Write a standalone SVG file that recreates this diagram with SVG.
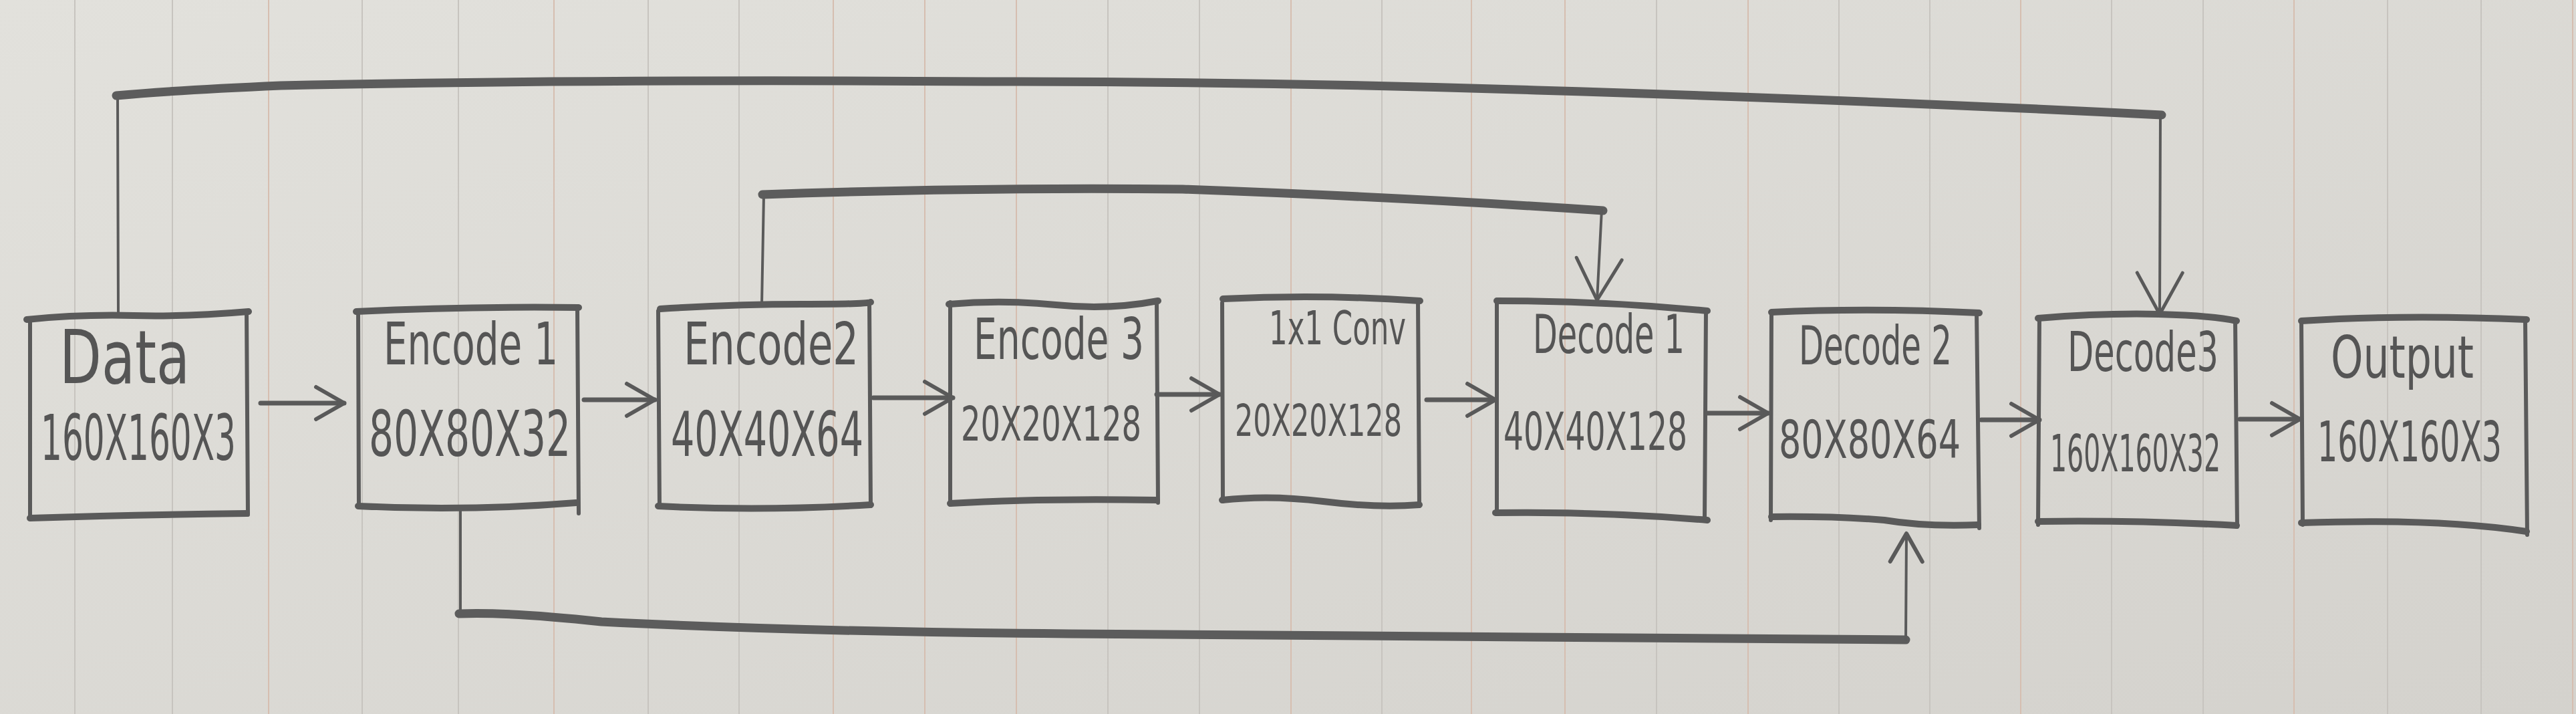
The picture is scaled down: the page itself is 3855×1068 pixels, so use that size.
<svg xmlns="http://www.w3.org/2000/svg" width="3855" height="1068" viewBox="0 0 3855 1068">
<defs>
<linearGradient id="paper" x1="0" y1="0" x2="1" y2="1">
<stop offset="0" stop-color="#e2e1dc"/>
<stop offset="1" stop-color="#d4d2cd"/>
</linearGradient>
<marker id="ah" markerUnits="userSpaceOnUse" viewBox="-60 -40 70 80" markerWidth="70" markerHeight="80" refX="0" refY="0" orient="auto" overflow="visible">
<path d="M-42,-24 L0,0 L-42,24" fill="none" stroke="#595959" stroke-width="6" stroke-linecap="round" stroke-linejoin="round"/>
</marker>
<marker id="ahv" markerUnits="userSpaceOnUse" viewBox="-80 -50 90 100" markerWidth="90" markerHeight="100" refX="0" refY="0" orient="auto" overflow="visible">
<path d="M-62,-34 L0,0 L-62,34" fill="none" stroke="#595959" stroke-width="5" stroke-linecap="round" stroke-linejoin="round"/>
</marker>
</defs>
<style>
.eh{fill:none;stroke:#5a5a5a;stroke-width:10;stroke-linecap:round;stroke-linejoin:round}
.ev{fill:none;stroke:#5a5a5a;stroke-width:6;stroke-linecap:round}
.rule{stroke:#c7c4bf;stroke-width:2}
.rule2{stroke:#d6beb0;stroke-width:2}
.t{font-family:"DejaVu Sans Condensed","DejaVu Sans",sans-serif;fill:#555555}
.ca{fill:none;stroke:#5a5a5a;stroke-width:7;stroke-linecap:round;marker-end:url(#ah)}
.ch{fill:none;stroke:#5c5c5c;stroke-width:13;stroke-linecap:round;stroke-linejoin:round}
.cv{fill:none;stroke:#5a5a5a;stroke-width:4;stroke-linecap:round}
</style>
<rect x="0" y="0" width="3855" height="1068" fill="url(#paper)"/>
<g id="ruling">
<line class="rule" x1="112" y1="0" x2="112" y2="1068"/>
<line class="rule" x1="258" y1="0" x2="258" y2="1068"/>
<line class="rule2" x1="402" y1="0" x2="402" y2="1068"/>
<line class="rule" x1="542" y1="0" x2="542" y2="1068"/>
<line class="rule" x1="686" y1="0" x2="686" y2="1068"/>
<line class="rule2" x1="829" y1="0" x2="829" y2="1068"/>
<line class="rule" x1="970" y1="0" x2="970" y2="1068"/>
<line class="rule" x1="1106" y1="0" x2="1106" y2="1068"/>
<line class="rule2" x1="1247" y1="0" x2="1247" y2="1068"/>
<line class="rule2" x1="1384" y1="0" x2="1384" y2="1068"/>
<line class="rule2" x1="1521" y1="0" x2="1521" y2="1068"/>
<line class="rule" x1="1658" y1="0" x2="1658" y2="1068"/>
<line class="rule" x1="1795" y1="0" x2="1795" y2="1068"/>
<line class="rule2" x1="1932" y1="0" x2="1932" y2="1068"/>
<line class="rule" x1="2068" y1="0" x2="2068" y2="1068"/>
<line class="rule2" x1="2202" y1="0" x2="2202" y2="1068"/>
<line class="rule2" x1="2342" y1="0" x2="2342" y2="1068"/>
<line class="rule" x1="2479" y1="0" x2="2479" y2="1068"/>
<line class="rule2" x1="2616" y1="0" x2="2616" y2="1068"/>
<line class="rule" x1="2752" y1="0" x2="2752" y2="1068"/>
<line class="rule" x1="2888" y1="0" x2="2888" y2="1068"/>
<line class="rule2" x1="3024" y1="0" x2="3024" y2="1068"/>
<line class="rule" x1="3160" y1="0" x2="3160" y2="1068"/>
<line class="rule" x1="3297" y1="0" x2="3297" y2="1068"/>
<line class="rule2" x1="3433" y1="0" x2="3433" y2="1068"/>
<line class="rule" x1="3573" y1="0" x2="3573" y2="1068"/>
<line class="rule" x1="3713" y1="0" x2="3713" y2="1068"/>
<line class="rule2" x1="3850" y1="0" x2="3850" y2="1068"/>
</g>
<g id="connectors">
<path class="ca" d="M390,603 L515,603"/>
<path class="ca" d="M874,598 L980,598"/>
<path class="ca" d="M1307,595 L1426,595"/>
<path class="ca" d="M1731,590 L1825,590"/>
<path class="ca" d="M2135,598 L2238,598"/>
<path class="ca" d="M2553,618 L2646,618"/>
<path class="ca" d="M2965,628 L3052,628"/>
<path class="ca" d="M3352,627 L3442,627"/>
<path class="cv" d="M177,467 L176,143"/>
<path class="ch" d="M174,143 Q260,135 420,128 Q900,118 1475,122 Q1900,122 2300,135 Q2800,150 3235,172"/>
<path class="cv" d="M3233,172 L3232,470" style="marker-end:url(#ahv)"/>
<path class="cv" d="M1140,456 L1143,292"/>
<path class="ch" d="M1141,291 Q1450,280 1770,283 Q2100,295 2399,315"/>
<path class="cv" d="M2397,313 L2390,449" style="marker-end:url(#ahv)"/>
<path class="cv" d="M689,757 L689,918"/>
<path class="ch" d="M687,918 Q760,915 900,930 Q1200,945 1600,948 Q2300,955 2852,957"/>
<path class="cv" d="M2852,957 L2853,798" style="marker-end:url(#ah)"/>
</g>
<g id="data">
<path class="eh" d="M40,478 Q120,470 200,472 T372,466 M45,775 Q200,770 369,768"/>
<path class="ev" d="M45,476 L45,776 M369,466 L371,770"/>
<text class="t" x="89" y="573" font-size="110" textLength="195" lengthAdjust="spacingAndGlyphs">Data</text>
<text class="t" x="61" y="688" font-size="95" textLength="292" lengthAdjust="spacingAndGlyphs">160X160X3</text>
</g>
<g id="encode1">
<path class="eh" d="M533,466 Q700,458 866,460 M536,757 Q700,765 862,752"/>
<path class="ev" d="M536,464 L537,758 M864,460 L866,768"/>
<text class="t" x="574" y="545" font-size="88" textLength="261" lengthAdjust="spacingAndGlyphs">Encode 1</text>
<text class="t" x="552" y="682" font-size="95" textLength="302" lengthAdjust="spacingAndGlyphs">80X80X32</text>
</g>
<g id="encode2">
<path class="eh" d="M988,462 Q1100,455 1200,455 T1303,452 M985,757 Q1140,765 1303,755"/>
<path class="ev" d="M985,465 L987,758 M1301,452 L1303,757"/>
<text class="t" x="1023" y="545" font-size="88" textLength="262" lengthAdjust="spacingAndGlyphs">Encode2</text>
<text class="t" x="1004" y="682" font-size="92" textLength="288" lengthAdjust="spacingAndGlyphs">40X40X64</text>
</g>
<g id="encode3">
<path class="eh" d="M1420,455 Q1500,448 1580,456 T1733,450 M1422,753 Q1560,745 1731,748"/>
<path class="ev" d="M1422,452 L1422,755 M1731,450 L1733,752"/>
<text class="t" x="1457" y="537" font-size="85" textLength="255" lengthAdjust="spacingAndGlyphs">Encode 3</text>
<text class="t" x="1438" y="659" font-size="72" textLength="270" lengthAdjust="spacingAndGlyphs">20X20X128</text>
</g>
<g id="conv1x1">
<path class="eh" d="M1830,447 Q1980,440 2125,450 M1829,748 Q1900,740 1980,750 T2124,755"/>
<path class="ev" d="M1829,453 L1830,750 M2122,450 L2124,757"/>
<text class="t" x="1899" y="515" font-size="70" textLength="205" lengthAdjust="spacingAndGlyphs">1x1 Conv</text>
<text class="t" x="1848" y="652" font-size="66" textLength="250" lengthAdjust="spacingAndGlyphs">20X20X128</text>
</g>
<g id="decode1">
<path class="eh" d="M2240,450 Q2400,450 2555,465 M2238,767 Q2400,765 2555,778"/>
<path class="ev" d="M2240,450 L2240,768 M2553,463 L2551,775"/>
<text class="t" x="2294" y="528" font-size="80" textLength="227" lengthAdjust="spacingAndGlyphs">Decode 1</text>
<text class="t" x="2250" y="673" font-size="78" textLength="275" lengthAdjust="spacingAndGlyphs">40X40X128</text>
</g>
<g id="decode2">
<path class="eh" d="M2651,467 Q2800,460 2962,468 M2651,773 Q2750,772 2820,778 Q2880,788 2960,785"/>
<path class="ev" d="M2651,467 L2650,778 M2958,467 L2962,790"/>
<text class="t" x="2692" y="545" font-size="80" textLength="229" lengthAdjust="spacingAndGlyphs">Decode 2</text>
<text class="t" x="2662" y="685" font-size="78" textLength="272" lengthAdjust="spacingAndGlyphs">80X80X64</text>
</g>
<g id="decode3">
<path class="eh" d="M3050,476 Q3150,468 3230,470 T3347,480 M3050,780 Q3200,778 3347,786"/>
<path class="ev" d="M3052,475 L3050,785 M3345,478 L3348,788"/>
<text class="t" x="3094" y="555" font-size="82" textLength="226" lengthAdjust="spacingAndGlyphs">Decode3</text>
<text class="t" x="3068" y="705" font-size="76" textLength="255" lengthAdjust="spacingAndGlyphs">160X160X32</text>
</g>
<g id="output">
<path class="eh" d="M3444,480 Q3600,470 3781,478 M3444,782 Q3650,775 3781,795"/>
<path class="ev" d="M3444,480 L3446,785 M3779,478 L3782,800"/>
<text class="t" x="3488" y="565" font-size="88" textLength="214" lengthAdjust="spacingAndGlyphs">Output</text>
<text class="t" transform="translate(3468,690) scale(1,1.2)" x="0" y="0" font-size="70" textLength="276" lengthAdjust="spacingAndGlyphs">160X160X3</text>
</g>
</svg>
